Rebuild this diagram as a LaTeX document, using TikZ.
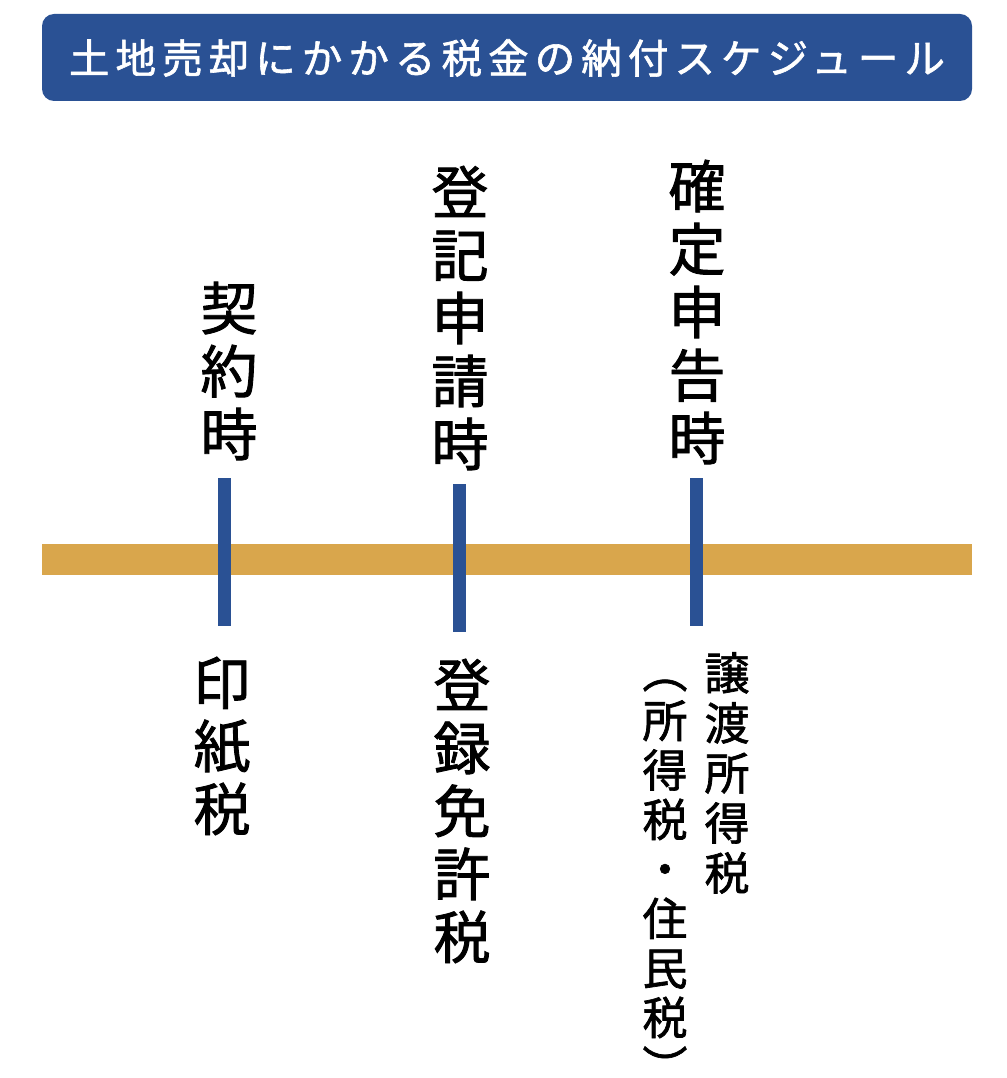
\documentclass[tikz,border=0pt]{standalone}
\usepackage{fontspec}
\newfontfamily\jpfont[FakeBold=1.5]{Noto Sans CJK JP}
\newfontfamily\jptitle[LetterSpace=15,FakeBold=1.5]{Noto Sans CJK JP}
\definecolor{navy}{RGB}{42,81,148}
\definecolor{gold}{RGB}{217,166,76}
\tikzset{
  vtext/.style={align=center, inner sep=0pt, font={\jpfont\fontsize{57}{63}\selectfont}},
  vsmall/.style={align=center, inner sep=0pt, font={\jpfont\fontsize{45}{50}\selectfont}},
  tick/.style={navy, line width=13pt}
}
\begin{document}
\begin{tikzpicture}[x=1pt,y=-1pt]
\useasboundingbox (0,0) rectangle (1006,1078);
% title
\fill[navy, rounded corners=12pt] (42,14) rectangle (972,101);
\node[text=white, inner sep=0pt, font={\jptitle\fontsize{40.5}{42}\selectfont}] (title) at (507,58) {土地売却にかかる税金の納付スケジュール};
% time line
\fill[gold] (42,544) rectangle (972,575);
\coordinate (k1top) at (224.5,478);
\coordinate (k1bot) at (224.5,626);
\coordinate (k2top) at (459.5,484);
\coordinate (k2bot) at (459.5,632);
\coordinate (k3top) at (696.5,478);
\coordinate (k3bot) at (696.5,626);
\draw[tick] (k1top) -- (k1bot);
\draw[tick] (k2top) -- (k2bot);
\draw[tick] (k3top) -- (k3bot);
% events
\node[vtext] (keiyaku) at (229,371) {契\\約\\時};
\node[vtext] (touki) at (460,318) {登\\記\\申\\請\\時};
\node[vtext] (kakutei) at (697,312) {確\\定\\申\\告\\時};
% taxes
\node[vtext] (inshi) at (222,746) {印\\紙\\税};
\node[vtext] (toroku) at (462,811) {登\\録\\免\\許\\税};
\node[vsmall, anchor=north] (jouto) at (727,652) {譲\\渡\\所\\得\\税};
\node[vsmall, anchor=north, font={\jpfont\fontsize{45}{49.5}\selectfont}] (shotoku) at (665,650) {\vphantom{譲}︵\\所\\得\\税\\・\\住\\民\\税\\︶};
\end{tikzpicture}
\end{document}
